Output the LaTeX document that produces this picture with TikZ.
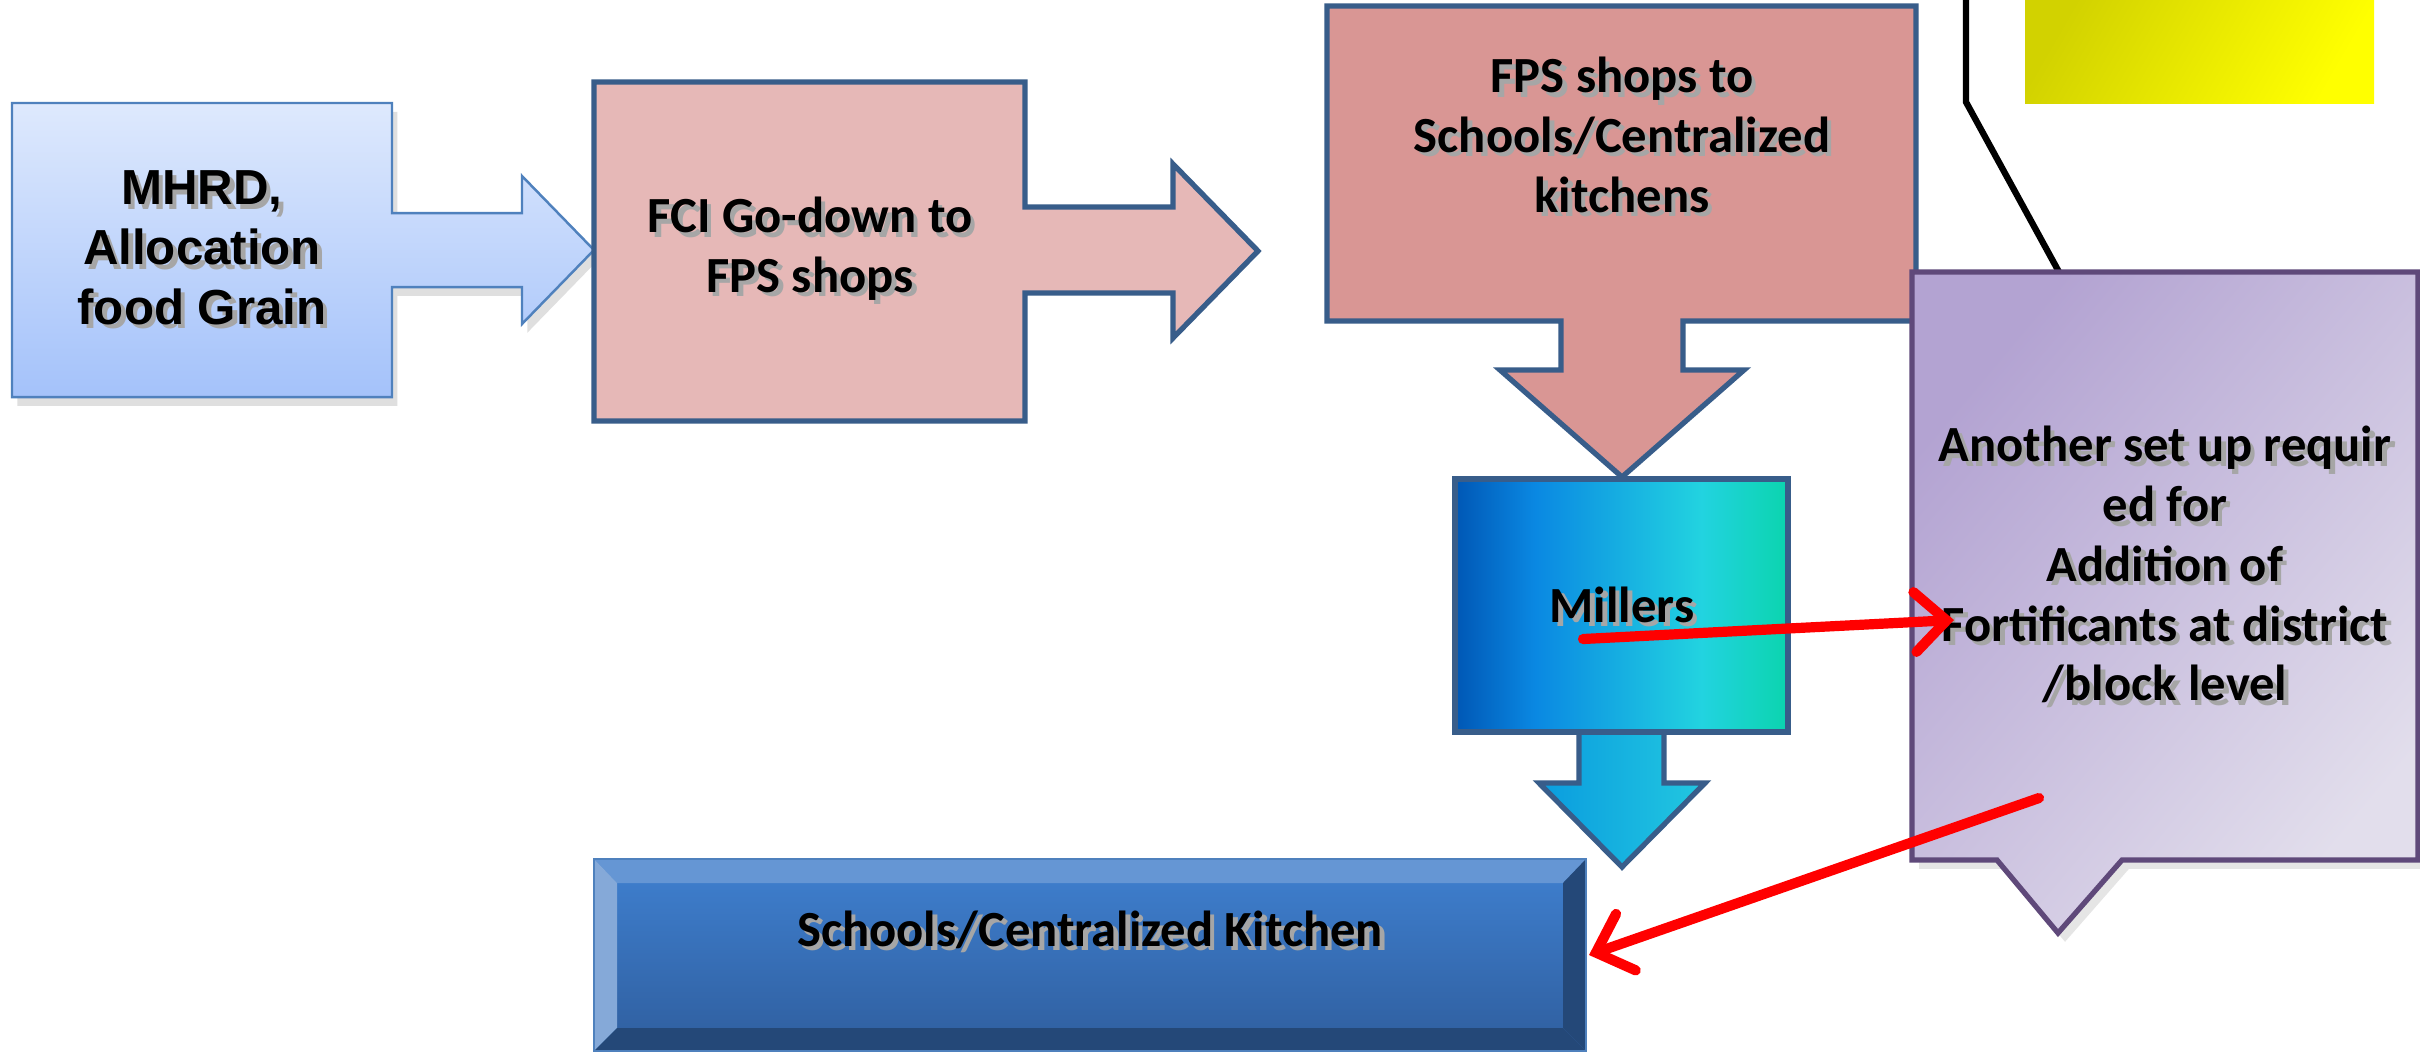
\documentclass[tikz,border=0pt]{standalone}
\usepackage{fontspec}
\setmainfont{Carlito}
\newfontfamily\arialfont{Liberation Sans}
\usepackage{xcolor}
\usepackage{tikz}
\usetikzlibrary{arrows.meta,shadows,calc}

\definecolor{boxline}{HTML}{385D8A}
\definecolor{mhrdline}{HTML}{4F81BD}
\definecolor{mhrdtop}{HTML}{DEE9FD}
\definecolor{mhrdbot}{HTML}{A4C2FA}
\definecolor{fcifill}{HTML}{E6B8B7}
\definecolor{fpsfill}{HTML}{D99694}
\definecolor{millA}{HTML}{0057B5}
\definecolor{millB}{HTML}{0A88E2}
\definecolor{millC}{HTML}{22D3E0}
\definecolor{millD}{HTML}{0BD4AE}
\definecolor{downA}{HTML}{0A9CDF}
\definecolor{downB}{HTML}{22C8E0}
\definecolor{kitchtop}{HTML}{3D7CCA}
\definecolor{kitchbot}{HTML}{3162A4}
\definecolor{bevtop}{HTML}{6596D4}
\definecolor{bevleft}{HTML}{85A9D8}
\definecolor{bevdark}{HTML}{244878}
\definecolor{setupline}{HTML}{5F497A}
\definecolor{setupA}{HTML}{B3A3D2}
\definecolor{setupB}{HTML}{E2DEEC}
\definecolor{noteA}{HTML}{D2D200}
\definecolor{noteB}{HTML}{FFFF00}

\pgfdeclarehorizontalshading{millershade}{100bp}{color(0bp)=(millA); color(25bp)=(millA); color(37bp)=(millB); color(62bp)=(millC); color(75bp)=(millD); color(100bp)=(millD)}

\newcommand{\sh}[1]{\rlap{\kern1.3pt\raisebox{-1.3pt}{\color{black!35}#1}}#1}

\begin{document}
\begin{tikzpicture}[x=0.01cm,y=-0.01cm,
  boxtxt/.style={align=center,font=\fontsize{14.4}{17}\selectfont\bfseries,inner sep=0pt},
  mhrdtxt/.style={align=center,font=\arialfont\fontsize{14}{17}\selectfont\bfseries,inner sep=0pt},
  flowbox/.style={draw=boxline,line width=1.5pt,line join=miter},
  redarrow/.style={draw=red,line width=2.9pt,line cap=round,-{Straight Barb[length=9pt,width=17pt,line cap=round]}}]
\clip(0,0)rectangle(2420,1053);
\fill[white](0,0)rectangle(2420,1053);
\draw[mhrdline,line width=0.7pt,top color=mhrdtop,bottom color=mhrdbot,drop shadow={shadow xshift=1.5pt,shadow yshift=-2.5pt,opacity=.25}]
  (12,103)--(392,103)--(392,213)--(522,213)--(522,176)--(594,250)--(522,324)--(522,287)--(392,287)--(392,397)--(12,397)--cycle;
\draw[flowbox,fill=fcifill](594,82)--(1025,82)--(1025,207)--(1173,207)--(1173,164)--(1258,251)--(1173,338)--(1173,293)--(1025,293)--(1025,421)--(594,421)--cycle;
\draw[flowbox,fill=fpsfill](1327,6)--(1916,6)--(1916,321)--(1683,321)--(1683,370)--(1744,370)--(1622,477)--(1500,370)--(1561,370)--(1561,321)--(1327,321)--cycle;
\draw[flowbox,left color=downA,right color=downB](1579,725)--(1664,725)--(1664,783)--(1705,783)--(1622,867)--(1539,783)--(1579,783)--cycle;
\draw[flowbox,shading=millershade](1455,479)rectangle(1788,732);
\fill[kitchtop](594,859)rectangle(1586,1051);
\shade[top color=kitchtop,bottom color=kitchbot](617,883)rectangle(1563,1028);
\fill[bevtop](594,859)--(1586,859)--(1563,883)--(617,883)--cycle;
\fill[bevleft](594,859)--(617,883)--(617,1028)--(594,1051)--cycle;
\fill[bevdark](1586,859)--(1586,1051)--(1563,1028)--(1563,883)--cycle;
\fill[bevdark](594,1051)--(1586,1051)--(1563,1028)--(617,1028)--cycle;
\draw[mhrdline,line width=0.5pt](594,859)rectangle(1586,1051);
\shade[top color=noteA,bottom color=noteB,shading angle=60](2025,-10)rectangle(2374,103);
\coordinate(notefoot)at(1966,-10);
\coordinate(notebend)at(1966,102);
\coordinate(setuptop)at(2059,272);
\draw[line width=1.8pt](notefoot)--(notebend)--(setuptop);
\draw[setupline,line width=1.5pt,line join=miter,top color=setupA,bottom color=setupB,shading angle=50,drop shadow={shadow xshift=2pt,shadow yshift=-2.5pt,opacity=.2}]
  (1912,272)--(2418,272)--(2418,860)--(2122,860)--(2058,933)--(1997,860)--(1912,860)--cycle;
\node[mhrdtxt](mhrd)at(202,250){\sh{MHRD,}\\\sh{Allocation}\\\sh{food Grain}};
\node[boxtxt](fci)at(810,251){\sh{FCI Go-down to}\\\sh{FPS shops}};
\node[boxtxt](fps)at(1622,137){\sh{FPS shops to}\\\sh{Schools/Centralized}\\\sh{kitchens}};
\node[boxtxt](millers)at(1622,607){\sh{Millers}};
\node[boxtxt](kitchen)at(1090,932){\sh{Schools/Centralized Kitchen}};
\node[boxtxt](setup)at(2165,567){\sh{Another set up requir}\\\sh{ed for}\\\sh{Addition of}\\\sh{Fortificants at district}\\\sh{/block level}};
\coordinate(millersout)at(1583,639);
\coordinate(setupin)at(1954,620);
\coordinate(setupout)at(2039,798);
\coordinate(kitchenin)at(1589,955);
\draw[redarrow](millersout)--(setupin);
\draw[redarrow](setupout)--(kitchenin);
\end{tikzpicture}
\end{document}
